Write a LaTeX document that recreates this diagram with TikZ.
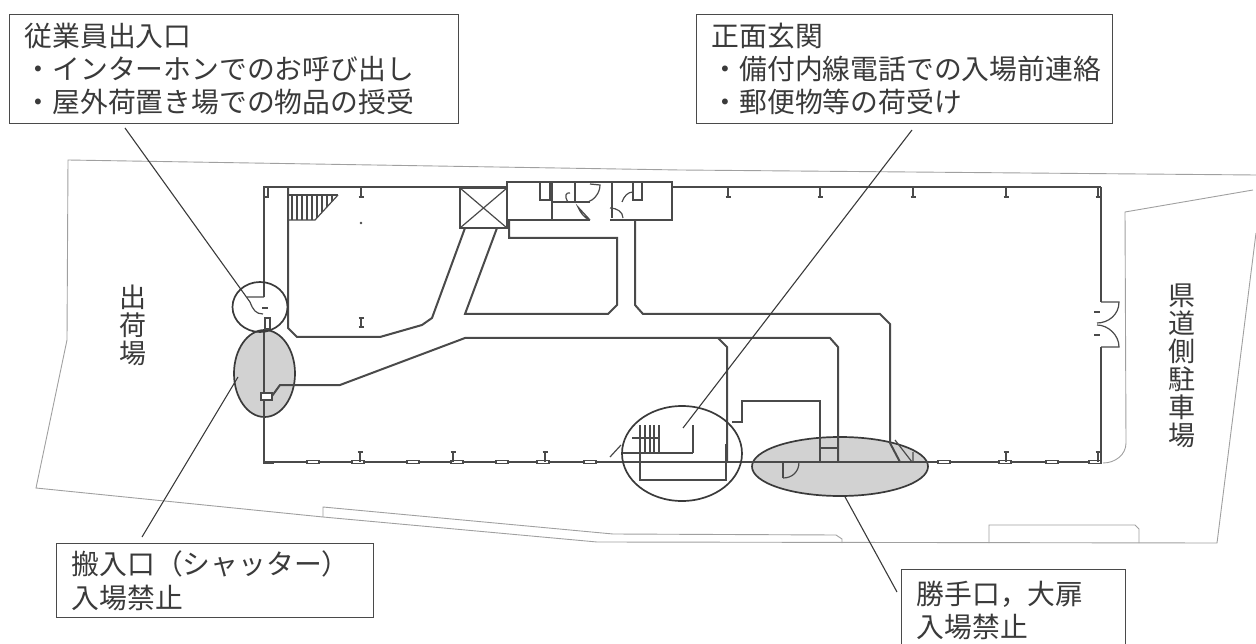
\documentclass[tikz,border=0pt]{standalone}
\usepackage{fontspec}
\usepackage{xcolor}
\usetikzlibrary{shapes.geometric}
\newfontfamily\jpfont{Noto Sans CJK JP}
\definecolor{ink}{HTML}{3A3A3A}
\definecolor{wallgray}{HTML}{4A4A4A}
\definecolor{sitegray}{HTML}{A0A0A0}
\definecolor{zonegray}{HTML}{D2D2D2}
\tikzset{
    note-box/.style = {draw=wallgray, line width=1.4pt, fill=white, rectangle, inner xsep=15pt, inner ysep=0pt, align=left, text=ink, font=\jpfont\fontsize{27.8}{33}\selectfont},
    area-label/.style = {inner sep=0pt, align=center, text=ink, font=\jpfont\fontsize{27}{28}\selectfont},
    zone-ring/.style = {ellipse, draw=ink, line width=1.7pt, inner sep=0pt},
    zone-fill/.style = {zone-ring, fill=zonegray},
    leader-line/.style = {draw=ink, line width=1.1pt},
    site-line/.style = {draw=sitegray, line width=0.9pt},
    wall-heavy/.style = {draw=wallgray, line width=2pt},
    wall-thin/.style = {draw=wallgray, line width=1.2pt},
}
\begin{document}
\begin{tikzpicture}[x=1pt,y=-1pt]
\useasboundingbox (0,0) rectangle (1256,644);

\path[site-line] (1256,175) -- (680,170) -- (68,160) -- (67,340) -- (36,488) -- (323,517) -- (597,542) -- (1217,543) -- (1256,233);
\path[site-line] (323,517) -- (323,507) -- (613,534) -- (836,535) -- (842,539) -- (842,543);
\path[site-line] (989,543) -- (989,525) -- (1135,525) -- (1139,529) -- (1139,543);
\path[site-line] (1253,190) -- (1125,212) -- (1126,443) .. controls (1126,455) and (1115,463) .. (1103,463);

\node[zone-fill, minimum width=61pt, minimum height=87pt] (shutter-zone) at (264.5,373.5) {};
\node[zone-fill, minimum width=176pt, minimum height=59pt] (rear-zone) at (840,466.5) {};

% outer walls
\path[wall-heavy] (264,297) -- (264,187) -- (507,187) (672,187) -- (1101,187);
\path[wall-thin] (1101,187) -- (1101,302);
\path[wall-heavy, line width=2.6pt] (1101,347) -- (1101,462);
\path[wall-thin] (264,462) -- (1101,462);
\path[wall-heavy] (264,332) -- (264,463) -- (274,463);
\path[wall-thin] (264,297) -- (247,297) (250,302) .. controls (253,310) and (256,314) .. (263,314);
\path[wall-thin] (265,318) rectangle (270,329);
\path[wall-thin] (262,308) -- (268,308) (1094,312) -- (1100,312) (1094,335) -- (1100,335);
\foreach \winx in {313,358,413,457,502,543,590,944,1005,1052,1095}
    \draw[wall-thin, fill=white] (\winx-6,460.5) rectangle (\winx+6,463.5);
\foreach \colx in {360,453,545,1006,1098} {
    \path[wall-thin] (\colx,452) -- (\colx,462) (\colx-2.5,452) -- (\colx+2.5,452);
}
\foreach \colx in {361,728,820,913,1006,1098} {
    \path[wall-thin] (\colx,187) -- (\colx,197) (\colx-2.5,197) -- (\colx+2.5,197);
}
\path[wall-thin] (361,318) -- (361,327) (358.5,318) -- (363.5,318) (358.5,327) -- (363.5,327);
\fill[wallgray] (361,223) circle (1.3pt);
\path[wall-thin] (268,187) -- (268,197) -- (264,197);

% corridors
\path[wall-heavy] (288,187) -- (288,328) -- (297,337) -- (380,337) -- (422,325) -- (432,318) -- (465,228);
\path[wall-heavy] (497,228) -- (465,314) -- (608,314) -- (617,305) -- (617,238) -- (509,238) -- (509,220);
\path[wall-heavy] (635,220) -- (635,305) -- (643,314) -- (880,314) -- (890,324) -- (890,443) -- (900,462);
\path[wall-heavy] (272,396) -- (280,385) -- (340,385) -- (465,338) -- (830,338) -- (838,347) -- (838,462);
\path[wall-heavy] (718,338) -- (727,347) -- (727,462);
\path[wall-thin, fill=white] (261,393) rectangle (272,400);
\path[wall-thin] (732,422) -- (742,422) -- (742,401) -- (820,401) -- (820,462);

% lift and core
\path[wall-heavy] (460,188) rectangle (507,228);
\path[wall-thin] (460,188) -- (507,228) (507,188) -- (460,228);
\path[wall-heavy] (590,220) -- (507,220) -- (507,182) -- (672,182) -- (672,220) -- (610,220);
\path[wall-heavy] (552,182) -- (552,220) (552,202) -- (575,202) -- (590,202) (575,182) -- (575,202) (612,182) -- (612,218);
\path[wall-thin] (540,182) rectangle (550,200) (633,182) rectangle (642,200);
\path[wall-thin] (568,202) .. controls (564,196) and (566,192) .. (570,193);
\path[wall-thin] (590,220) -- (578,207) .. controls (580,212) and (584,218) .. (590,220);
\path[wall-thin] (590,184) -- (600,185) .. controls (600,193) and (594,200) .. (588,202);
\path[wall-thin] (623,218) .. controls (623,212) and (617,208) .. (610,208);
\path[wall-thin] (622,202) .. controls (624,196) and (628,192) .. (633,192);

% stairs
\path[wall-heavy] (288,195) -- (338,195);
\path[wall-thin] (338,195) -- (315,220) -- (288,220);
\begin{scope}
    \clip (288,195) -- (338,195) -- (315,220) -- (288,220) -- cycle;
    \foreach \treadx in {292,297,...,337}
        \path[wall-thin] (\treadx,195) -- (\treadx,220);
\end{scope}

% front hall
\foreach \treadx in {640,645,650,654,659}
    \path[wall-thin] (\treadx,425) -- (\treadx,452);
\path[wall-thin] (632,438) -- (660,438);
\path[wall-heavy] (622,453) -- (693,453);
\path[wall-thin] (693,453) -- (693,425);
\path[wall-thin] (610,457) -- (621,445);
\path[wall-heavy] (640,453) -- (640,480) -- (726,480) -- (726,444);
\path[wall-heavy] (770,462) -- (838,462);

% rear door and side bay
\path[wall-heavy] (783,462) -- (783,478);
\path[wall-thin] (783,478) .. controls (792,478) and (799,472) .. (799,462);
\path[wall-heavy] (820,448) -- (838,448);
\path[wall-thin] (895,440) -- (912,462) (913,452) -- (913,462);

% east doors
\path[wall-thin] (1101,302) -- (1119,302) .. controls (1119,315) and (1108,323) .. (1097,323);
\path[wall-thin] (1101,347) -- (1119,347) .. controls (1119,335) and (1108,325) .. (1097,325);

\node[zone-ring, minimum width=55pt, minimum height=50pt] (staff-zone) at (260,307) {};
\node[zone-ring, minimum width=120pt, minimum height=95pt] (front-zone) at (682,453.5) {};

\node[note-box, anchor=north west, text width=419pt, minimum height=109pt] (staff-note) at (9,14) {従業員出入口\\・インターホンでのお呼び出し\\・屋外荷置き場での物品の授受};
\node[note-box, anchor=north west, text width=386pt, minimum height=109pt] (front-note) at (696,14) {正面玄関\\・備付内線電話での入場前連絡\\・郵便物等の荷受け};
\node[note-box, anchor=north west, text width=287pt, minimum height=74pt] (shutter-note) at (56,543) {搬入口（シャッター）\\[1pt]入場禁止};
\node[note-box, anchor=north west, text width=194pt, minimum height=82pt] (rear-note) at (901,569) {勝手口，大扉\\入場禁止};

\node[area-label] (ship-label) at (133,325) {出\\荷\\場};
\node[area-label] (park-label) at (1182,366) {県\\道\\側\\駐\\車\\場};

\coordinate (staff-tip) at (125,128);
\coordinate (staff-end) at (250,302);
\coordinate (front-tip) at (912,130);
\coordinate (front-end) at (683,428);
\coordinate (shutter-tip) at (142,537);
\coordinate (shutter-end) at (238,377);
\coordinate (rear-tip) at (897,592);
\draw[leader-line] (staff-tip) -- (staff-end);
\draw[leader-line] (front-tip) -- (front-end);
\draw[leader-line] (shutter-tip) -- (shutter-end);
\draw[leader-line] (rear-zone.south) ++(5,0) -- (rear-tip);
\end{tikzpicture}
\end{document}
